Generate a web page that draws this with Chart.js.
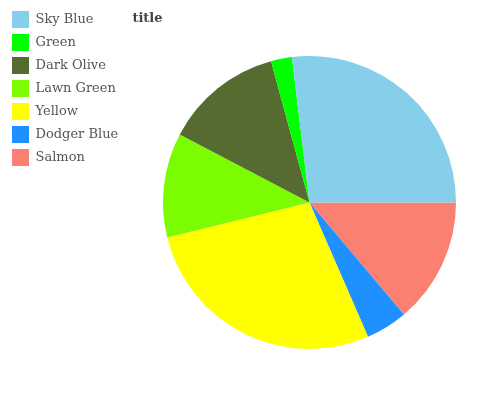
<!DOCTYPE html>
<html>
<head>
<meta charset="utf-8">
<script src="https://cdn.jsdelivr.net/npm/chart.js@4.4.1/dist/chart.umd.min.js"></script>
<style>
  html, body { margin: 0; padding: 0; background: #fff; }
  #wrap { width: 495px; height: 400px; position: relative; }
</style>
</head>
<body>
<div id="wrap"><canvas id="c" width="495" height="400"></canvas></div>
<script>
// Legend order (top to bottom)
const categories = ["Sky Blue", "Green", "Dark Olive", "Lawn Green", "Yellow", "Dodger Blue", "Salmon"];
const values = [35, 3, 17, 15, 36, 6, 18];
const colors = ["#87CEEB", "#00FF00", "#556B2F", "#7CFC00", "#FFFF00", "#1E90FF", "#FA8072"];
const titleText = "title";

// Slices are laid out counter-clockwise from 3 o'clock in the reference;
// Chart.js draws clockwise, so feed reversed order and reverse the legend.
const drawLabels = categories.slice().reverse();
const drawValues = values.slice().reverse();
const drawColors = colors.slice().reverse();

const legendWidthPlugin = {
  id: 'legendWidth',
  beforeInit(chart) {
    const orig = chart.legend.fit;
    chart.legend.fit = function () {
      orig.bind(chart.legend)();
      this.width = 157;
    };
  }
};

const titlePlugin = {
  id: 'freeTitle',
  afterDraw(chart) {
    const ctx = chart.ctx;
    ctx.save();
    ctx.font = "bold 13px 'DejaVu Serif'";
    ctx.fillStyle = "#444444";
    ctx.textAlign = "center";
    ctx.textBaseline = "alphabetic";
    ctx.fillText(titleText, 147.5, 22);
    ctx.restore();
  }
};

new Chart(document.getElementById('c'), {
  type: 'pie',
  data: {
    labels: drawLabels,
    datasets: [{
      data: drawValues,
      backgroundColor: drawColors,
      borderWidth: 0
    }]
  },
  options: {
    responsive: false,
    animation: false,
    rotation: 90,
    layout: { padding: { left: 6, top: 5, right: 39, bottom: -21 } },
    plugins: {
      title: { display: false },
      tooltip: { enabled: false },
      legend: {
        position: 'left',
        align: 'start',
        reverse: true,
        labels: {
          boxWidth: 17,
          boxHeight: 17,
          padding: 6,
          color: '#555555',
          font: { family: "'DejaVu Serif'", size: 13 }
        }
      }
    }
  },
  plugins: [legendWidthPlugin, titlePlugin]
});
</script>
</body>
</html>
